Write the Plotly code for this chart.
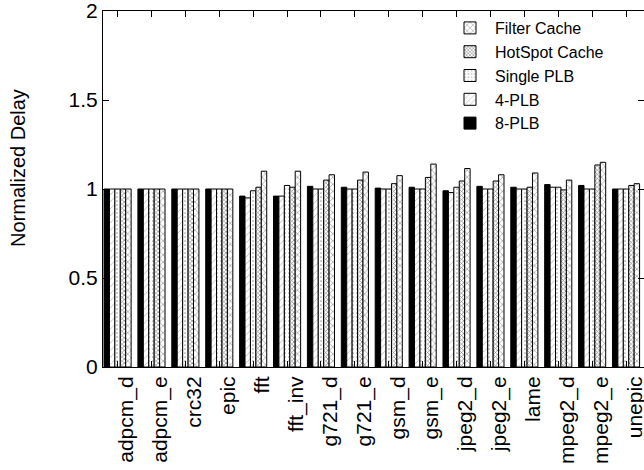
import plotly.graph_objects as go

categories = ["adpcm_d", "adpcm_e", "crc32", "epic", "fft", "fft_inv", "g721_d", "g721_e",
              "gsm_d", "gsm_e", "jpeg2_d", "jpeg2_e", "lame", "mpeg2_d", "mpeg2_e", "unepic"]

plb8 = [1.0, 1.0, 1.0, 1.0, 0.96, 0.96, 1.015, 1.01, 1.005, 1.01, 0.99, 1.015, 1.01, 1.025, 1.02, 1.0]
plb4 = [1.0, 1.0, 1.0, 1.0, 0.95, 0.96, 1.0, 1.0, 1.0, 1.0, 0.98, 1.0, 1.0, 1.01, 1.0, 1.0]
single_plb = [1.0, 1.0, 1.0, 1.0, 0.99, 1.02, 1.0, 1.0, 1.0, 1.0, 1.01, 1.0, 1.0, 1.01, 1.0, 1.0]
hotspot = [1.0, 1.0, 1.0, 1.0, 1.01, 1.01, 1.05, 1.05, 1.03, 1.065, 1.045, 1.045, 1.01, 0.995, 1.135, 1.02]
filter_cache = [1.0, 1.0, 1.0, 1.0, 1.10, 1.10, 1.08, 1.095, 1.075, 1.14, 1.115, 1.08, 1.09, 1.05, 1.15, 1.03]

series = [
    ("8-PLB", plb8, dict(shape="", fgcolor="black", bgcolor="black")),
    ("4-PLB", plb4, dict(shape="/", fgcolor="#666666", bgcolor="white", size=5, solidity=0.15)),
    ("Single PLB", single_plb, dict(shape=".", fgcolor="#444444", bgcolor="white", size=4, solidity=0.15)),
    ("HotSpot Cache", hotspot, dict(shape="x", fgcolor="black", bgcolor="white", size=3, solidity=0.4)),
    ("Filter Cache", filter_cache, dict(shape="x", fgcolor="black", bgcolor="white", size=5, solidity=0.2)),
]

xpos = list(range(len(categories)))

fig = go.Figure()
for name, vals, pat in series:
    color = "black" if name == "8-PLB" else "white"
    fig.add_trace(go.Bar(
        x=xpos, y=vals, name=name,
        marker=dict(color=color, line=dict(color="black", width=1), pattern=pat),
    ))

font_family = "Liberation Sans, Arial, sans-serif"
TOP = 11
BOTTOM = 367
PLOT_W = 644 - 103
PLOT_H = BOTTOM - TOP

fig.add_annotation(
    text="Normalized Delay", textangle=-90,
    xref="paper", yref="paper", x=(18 - 103) / PLOT_W, y=(BOTTOM - 168) / PLOT_H,
    xanchor="center", yanchor="middle", showarrow=False,
    font=dict(size=20, family=font_family, color="black"),
)

fig.update_layout(
    width=644, height=470,
    margin=dict(l=103, r=0, t=TOP, b=470 - BOTTOM),
    paper_bgcolor="white", plot_bgcolor="white",
    barmode="group", bargap=0.2, bargroupgap=0.0,
    font=dict(family=font_family, size=21, color="black"),
    showlegend=True,
    legend=dict(
        x=(445 - 103) / PLOT_W, xanchor="left", y=1.0, yanchor="top",
        traceorder="reversed", bgcolor="rgba(0,0,0,0)",
        font=dict(size=16), itemwidth=40, tracegroupgap=0,
    ),
    xaxis=dict(
        tickmode="array", tickvals=xpos, ticktext=categories, tickangle=-90,
        range=[-0.43, 15.53], ticklabelshift=9, ticklabeloverflow="allow",
        showline=True, linecolor="black", linewidth=1, mirror="ticks",
        ticks="inside", ticklen=6, tickcolor="black",
        showgrid=False, zeroline=False, automargin=False,
        tickfont=dict(size=21),
    ),
    yaxis=dict(
        range=[0, 2], tickvals=[0, 0.5, 1, 1.5, 2], ticktext=["0", "0.5", "1", "1.5", "2"],
        ticklabeloverflow="allow",
        showline=True, linecolor="black", linewidth=1, mirror="ticks",
        ticks="inside", ticklen=6, tickcolor="black",
        showgrid=False, zeroline=False, automargin=False,
        tickfont=dict(size=21),
    ),
)

fig.write_html(
    "out.html",
    config={"displayModeBar": False},
    post_script="document.body.style.margin='0px';document.body.style.overflow='hidden';",
)
